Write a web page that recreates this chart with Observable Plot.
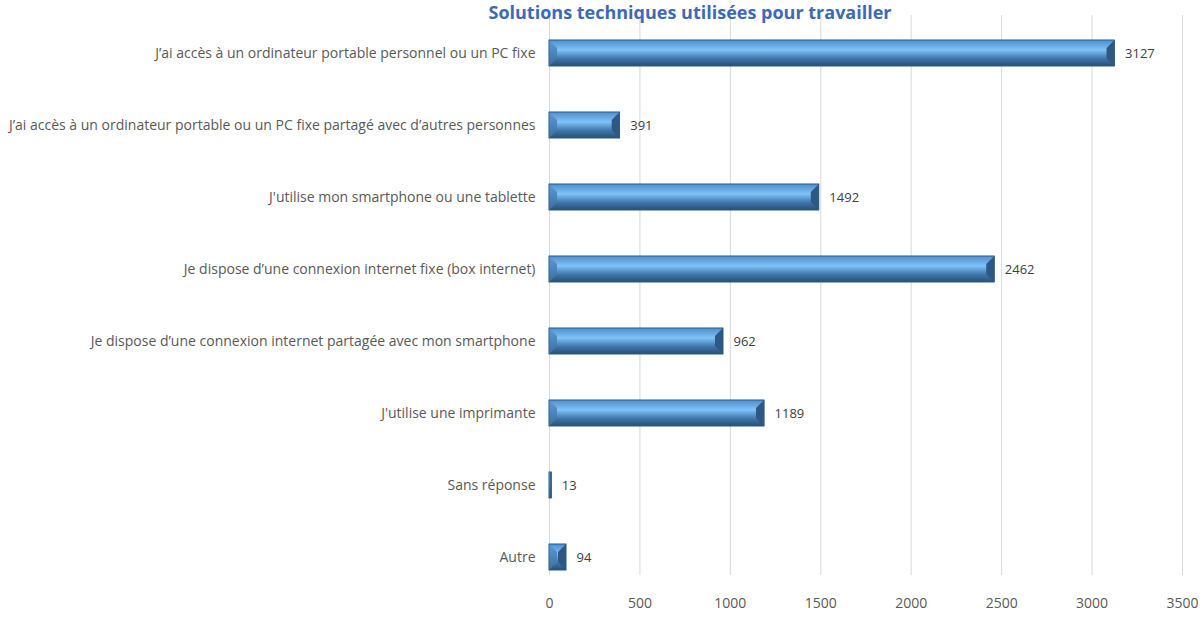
<!DOCTYPE html>
<html><head><meta charset="utf-8">
<script src="https://cdn.jsdelivr.net/npm/d3@7"></script>
<script src="https://cdn.jsdelivr.net/npm/@observablehq/plot@0.6"></script>
<style>
html,body{margin:0;padding:0;background:#fff;overflow:hidden;}
#wrap{position:relative;width:1200px;height:622px;}
#title{position:absolute;top:0px;left:440px;width:500px;line-height:20px;text-align:center;font:bold 18px "Open Sans",sans-serif;color:#3d69b6;margin:0;z-index:2;white-space:nowrap;}
#chart{position:absolute;top:0;left:0;z-index:1;}
</style></head>
<body><div id="wrap"><div id="title">Solutions techniques utilisées pour travailler</div><div id="chart"></div></div>
<script>
const categories = [
  "J’ai accès à un ordinateur portable personnel ou un PC fixe",
  "J’ai accès à un ordinateur portable ou un PC fixe partagé avec d’autres personnes",
  "J'utilise mon smartphone ou une tablette",
  "Je dispose d’une connexion internet fixe (box internet)",
  "Je dispose d’une connexion internet partagée avec mon smartphone",
  "J'utilise une imprimante",
  "Sans réponse",
  "Autre"
];
const values = [3127, 391, 1492, 2462, 962, 1189, 13, 94];
const xTicks = [0, 500, 1000, 1500, 2000, 2500, 3000, 3500];

const data = categories.map((c, i) => ({category: c, value: values[i]}));

const chart = Plot.plot({
  width: 1200,
  height: 622,
  marginLeft: 549,
  marginRight: 18,
  marginTop: 15,
  marginBottom: 28,
  style: {fontFamily: "'Open Sans', sans-serif", fontSize: "14px", color: "#595959", background: "#fff"},
  x: {domain: [0, 3500], ticks: xTicks, tickFormat: d => String(d), label: null, tickSize: 0, tickPadding: 4},
  y: {domain: categories, label: null, tickSize: 0, tickPadding: 14, paddingInner: 0.64, paddingOuter: 0.32},
  marks: [
    Plot.ruleX(xTicks, {stroke: "#d9d9d9", strokeWidth: 1, insetBottom: 19}),
    Plot.barX(data, {x: "value", y: "category", fill: "url(#barGrad)", stroke: "#2f5b85", strokeWidth: 0.6}),
    Plot.text(data, {x: "value", y: "category", text: d => String(d.value), dx: 10, textAnchor: "start", fill: "#404040", fontSize: 13})
  ]
});

const ns = "http://www.w3.org/2000/svg";
const defs = document.createElementNS(ns, "defs");
defs.innerHTML = `<linearGradient id="barGrad" x1="0" y1="0" x2="0" y2="1">
  <stop offset="0" stop-color="#4f8fcf"/>
  <stop offset="0.22" stop-color="#68abe4"/>
  <stop offset="0.38" stop-color="#82c4f3"/>
  <stop offset="0.55" stop-color="#5b9bd5"/>
  <stop offset="0.72" stop-color="#3f74a8"/>
  <stop offset="1" stop-color="#2b4f76"/>
</linearGradient>
<linearGradient id="leftGrad" x1="0" y1="0" x2="0" y2="1">
  <stop offset="0" stop-color="#5a9ad6"/>
  <stop offset="1" stop-color="#3b6fa3"/>
</linearGradient>`;
chart.insertBefore(defs, chart.firstChild);

// bevelled ends, positioned through Plot's own scales
const xs = chart.scale("x"), ys = chart.scale("y");
const bw = ys.bandwidth;
const g = d3.select(chart).append("g").attr("class", "bevels");
data.forEach(d => {
  const x0 = xs.apply(0), x1 = xs.apply(d.value);
  const y0 = ys.apply(d.category), y1 = y0 + bw;
  const b = Math.min(8, (x1 - x0) / 2, bw / 2);
  g.append("polygon")
    .attr("points", [[x0, y0], [x0 + b, y0 + b], [x0 + b, y1 - b], [x0, y1]].join(" "))
    .attr("fill", "url(#leftGrad)");
  g.append("polygon")
    .attr("points", [[x1, y0], [x1 - b, y0 + b], [x1 - b, y1 - b], [x1, y1]].join(" "))
    .attr("fill", "#2c5883");
  g.append("rect")
    .attr("x", x0).attr("y", y0).attr("width", Math.max(0, x1 - x0)).attr("height", bw)
    .attr("fill", "none").attr("stroke", "#2f5b85").attr("stroke-width", 0.6);
});

document.getElementById("chart").appendChild(chart);
</script></body></html>
